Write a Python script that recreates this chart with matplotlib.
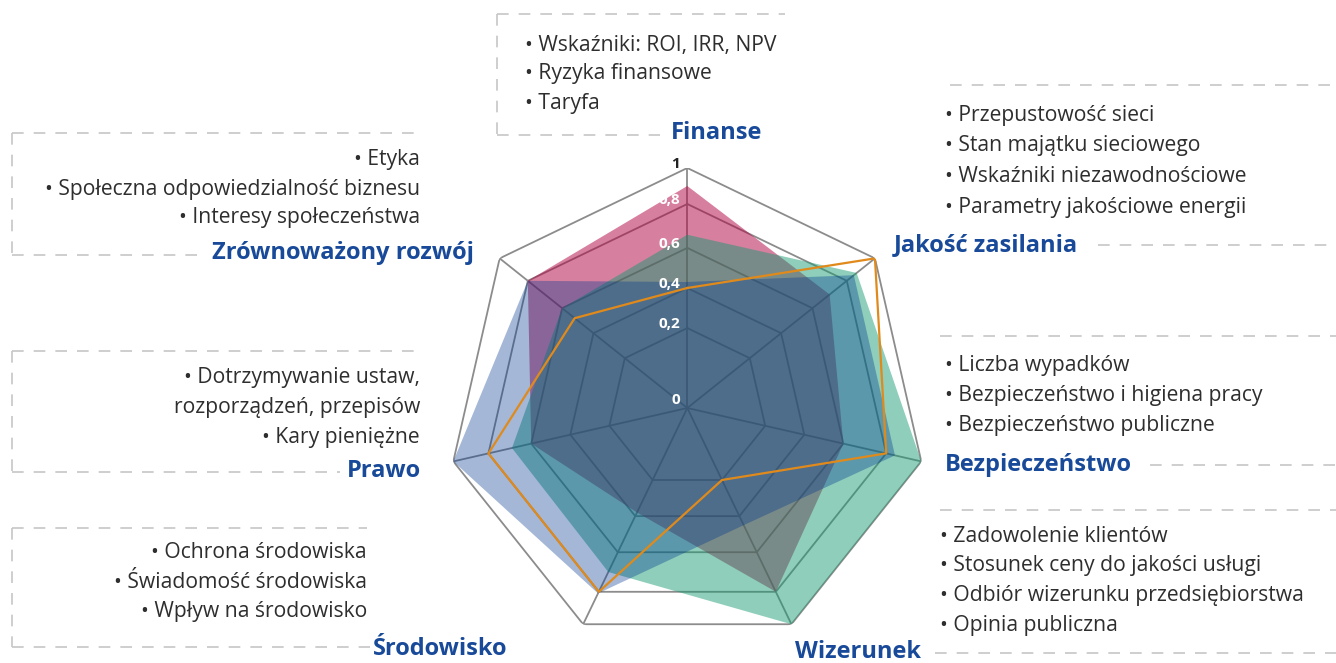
import numpy as np
import matplotlib.pyplot as plt

plt.rcParams['font.family'] = ['Open Sans', 'DejaVu Sans']

# osie wykresu (zgodnie z ruchem wskazowek zegara, od gory)
kategorie = ['Finanse', 'Jakość zasilania', 'Bezpieczeństwo', 'Wizerunek',
             'Środowisko', 'Prawo', 'Zrównoważony rozwój']
seria_rozowa = [0.90, 0.70, 0.60, 0.80, 0.38, 0.60, 0.80]
seria_zielona = [0.66, 0.87, 1.00, 1.00, 0.70, 0.69, 0.60]
seria_niebieska = [0.43, 0.85, 0.85, 0.45, 0.81, 1.00, 0.80]
seria_pomaranczowa = [0.40, 1.00, 0.80, 0.20, 0.80, 0.80, 0.52]
poziomy = [0, 0.2, 0.4, 0.6, 0.8, 1.0]
etykiety_poziomow = ['0', '0,2', '0,4', '0,6', '0,8', '1']

opis_finanse = ['• Wskaźniki: ROI, IRR, NPV', '• Ryzyka finansowe', '• Taryfa']
opis_jakosc = ['• Przepustowość sieci', '• Stan majątku sieciowego',
               '• Wskaźniki niezawodnościowe', '• Parametry jakościowe energii']
opis_bezp = ['• Liczba wypadków', '• Bezpieczeństwo i higiena pracy',
             '• Bezpieczeństwo publiczne']
opis_wizerunek = ['• Zadowolenie klientów', '• Stosunek ceny do jakości usługi',
                  '• Odbiór wizerunku przedsiębiorstwa', '• Opinia publiczna']
opis_srodowisko = ['• Ochrona środowiska', '• Świadomość środowiska',
                   '• Wpływ na środowisko']
opis_prawo = ['• Dotrzymywanie ustaw,', 'rozporządzeń, przepisów', '• Kary pieniężne']
opis_zr = ['• Etyka', '• Społeczna odpowiedzialność biznesu', '• Interesy społeczeństwa']

NIEBIESKI = '#184a99'
TEKST = '#2e2e2e'
KRESKI = '#c6c6c6'

fig = plt.figure(figsize=(13.36, 6.63), dpi=100)

# warstwa z opisami (wspolrzedne w pikselach, y w dol)
tlo = fig.add_axes([0, 0, 1, 1])
tlo.set_xlim(0, 1336)
tlo.set_ylim(663, 0)
tlo.axis('off')


def kreska(x0, y0, x1, y1):
    tlo.plot([x0, x1], [y0, y1], color=KRESKI, lw=1.2, dashes=(7, 6))


def lista(x, ys, teksty, ha):
    for y, t in zip(ys, teksty):
        tlo.text(x, y, t, ha=ha, va='center', fontsize=15.2, color=TEKST)


def naglowek(x, y, t, ha):
    tlo.text(x, y, t, ha=ha, va='center', fontsize=17, fontweight='bold', color=NIEBIESKI)


# Finanse
kreska(497, 14, 785, 14); kreska(497, 14, 497, 135); kreska(497, 135, 660, 135)
lista(525, [45, 74, 103], opis_finanse, 'left')
naglowek(717, 133, kategorie[0], 'center')

# Zrownowazony rozwoj
kreska(12, 133, 422, 133); kreska(12, 133, 12, 255); kreska(12, 255, 200, 255)
lista(420, [160, 189, 218], opis_zr, 'right')
naglowek(474, 253, kategorie[6], 'right')

# Prawo
kreska(12, 351, 422, 351); kreska(12, 351, 12, 472); kreska(12, 472, 340, 472)
lista(420, [378, 408, 438], opis_prawo, 'right')
naglowek(421, 471, kategorie[5], 'right')

# Srodowisko
kreska(12, 528, 367, 528); kreska(12, 528, 12, 647); kreska(12, 647, 370, 647)
lista(367, [553, 582, 611], opis_srodowisko, 'right')
naglowek(440, 649, kategorie[4], 'center')

# Jakosc zasilania
kreska(950, 85, 1336, 85); kreska(1098, 245, 1336, 245)
lista(945, [116, 146, 177, 207], opis_jakosc, 'left')
naglowek(894, 245, kategorie[1], 'left')

# Bezpieczenstwo
kreska(940, 336, 1336, 336); kreska(1150, 465, 1336, 465)
lista(945, [366, 396, 426], opis_bezp, 'left')
naglowek(945, 465, kategorie[2], 'left')

# Wizerunek
kreska(940, 510, 1336, 510); kreska(935, 653, 1336, 653)
lista(940, [537, 566, 596, 626], opis_wizerunek, 'left')
naglowek(858, 652, kategorie[3], 'center')

# wykres radarowy
cx, cy, R = 687.3, 408, 240
ax = fig.add_axes([(cx - R) / 1336, (663 - cy - R) / 663, 2 * R / 1336, 2 * R / 663],
                  projection='polar')
ax.set_facecolor('none')
ax.set_theta_offset(np.pi / 2)
ax.set_theta_direction(-1)

# nieliniowa os promieniowa (jak w oryginale)
ulamki = [0, 0.333, 0.5, 0.667, 0.85, 1.0]
ax.set_rscale('function', functions=(lambda v: np.interp(v, poziomy, ulamki),
                                     lambda s: np.interp(s, ulamki, poziomy)))
ax.set_ylim(0, 1)

n = len(kategorie)
kat = np.arange(n) * 2 * np.pi / n
kat_z = np.append(kat, kat[0])

for p in poziomy[1:]:
    ax.plot(kat_z, [p] * (n + 1), color='#8c8c8c', lw=1.3, zorder=1)
for a in kat:
    ax.plot([a, a], [0, 1], color='#8c8c8c', lw=1.3, zorder=1)


def zamknij(v):
    return list(v) + [v[0]]


ax.fill(kat_z, zamknij(seria_rozowa), color='#b10041', alpha=0.5, lw=0, zorder=2)
ax.fill(kat_z, zamknij(seria_zielona), color='#149a6f', alpha=0.48, lw=0, zorder=3)
ax.fill(kat_z, zamknij(seria_niebieska), color='#003791', alpha=0.355, lw=0, zorder=4)
ax.plot(kat_z, zamknij(seria_pomaranczowa), color='#e08a1c', lw=1.6, zorder=5)

for p, t in zip(poziomy, etykiety_poziomow):
    kolor = '#222222' if p == 1.0 else 'white'
    dy = 6 if p == 0 else 3
    ax.annotate(t, xy=(0, p), xytext=(-5, dy), textcoords='offset points',
                ha='right', va='center', fontsize=11, fontweight='bold',
                color=kolor, zorder=6)

ax.set_xticks([])
ax.set_yticks([])
ax.grid(False)
ax.spines['polar'].set_visible(False)

fig.savefig('out.png', dpi=100)
